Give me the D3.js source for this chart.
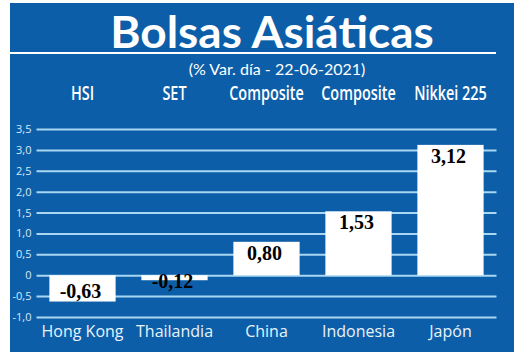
<!DOCTYPE html>
<html><head><meta charset="utf-8">
<script src="https://cdn.jsdelivr.net/npm/d3@7"></script>
<style>html,body{margin:0;padding:0;background:#fff;}</style>
</head><body>
<svg id="chart" width="520" height="357"></svg>
<script>
const categories = ["Hong Kong", "Thailandia", "China", "Indonesia", "Japón"];
const indices = ["HSI", "SET", "Composite", "Composite", "Nikkei 225"];
const values = [-0.63, -0.12, 0.80, 1.53, 3.12];
const valueLabels = ["-0,63", "-0,12", "0,80", "1,53", "3,12"];
const tickValues = [-1.0, -0.5, 0, 0.5, 1.0, 1.5, 2.0, 2.5, 3.0, 3.5];
const tickLabels = ["-1,0", "-0,5", "0", "0,5", "1,0", "1,5", "2,0", "2,5", "3,0", "3,5"];
const title = "Bolsas Asiáticas";
const subtitle = "(% Var. día - 22-06-2021)";

const svg = d3.select("#chart");
const blue = "#0d5ea8", grid = "#a9d7f2";

svg.append("rect").attr("x", 10).attr("y", 3).attr("width", 504).attr("height", 349).attr("fill", blue);

svg.append("text").attr("transform", "translate(272,48) scale(1.07,1)").attr("text-anchor", "middle")
  .attr("font-family", "Lato").attr("font-weight", 700).attr("font-size", 43)
  .attr("fill", "#fff").text(title);
svg.append("line").attr("x1", 10).attr("x2", 496).attr("y1", 53).attr("y2", 53)
  .attr("stroke", "#fff").attr("stroke-width", 2);
svg.append("text").attr("x", 277).attr("y", 75).attr("text-anchor", "middle")
  .attr("font-family", "Lato").attr("font-size", 16).attr("fill", "#fff").text(subtitle);

const x = d3.scaleBand().domain(categories).range([36.5, 496.5]).paddingInner(0.28).paddingOuter(0.14);
const y = d3.scaleLinear().domain([-1, 3.5]).range([317, 129]);

// gridlines via axis
const yAxis = d3.axisLeft(y).tickValues(tickValues)
  .tickSize(-(496.5 - 36.5)).tickPadding(5)
  .tickFormat((d, i) => tickLabels[i]);
const gy = svg.append("g").attr("transform", "translate(36.5,0)").call(yAxis);
gy.select(".domain").remove();
gy.selectAll(".tick line").attr("stroke", grid).attr("stroke-width", 2);
gy.selectAll(".tick text").attr("fill", "#d4eaf8").attr("font-family", "Open Sans")
  .attr("font-size", 11).attr("dy", "0.32em");

// bars
svg.selectAll("rect.bar").data(values).enter().append("rect").attr("class", "bar")
  .attr("x", (d, i) => x(categories[i]))
  .attr("width", x.bandwidth())
  .attr("y", d => Math.min(y(d), y(0)))
  .attr("height", d => Math.abs(y(d) - y(0)))
  .attr("fill", "#fff");

// value labels
svg.selectAll("text.val").data(values).enter().append("text").attr("class", "val")
  .attr("x", (d, i) => x(categories[i]) + x.bandwidth() / 2 - 2)
  .attr("y", d => d >= 0 ? y(d) + 18 : Math.max(y(d) - 4, y(0) + 13))
  .attr("text-anchor", "middle")
  .attr("font-family", "Liberation Serif").attr("font-weight", 700).attr("font-size", 20)
  .attr("fill", "#000")
  .text((d, i) => valueLabels[i]);

// category labels (bottom axis)
const xAxis = d3.axisBottom(x).tickSize(0).tickPadding(0);
const gx = svg.append("g").attr("transform", "translate(0,325)").call(xAxis);
gx.select(".domain").remove();
gx.selectAll(".tick text").attr("fill", "#e8f3fb").attr("font-family", "Open Sans")
  .attr("font-size", 16).attr("dy", "0.75em");

// index labels (top)
svg.selectAll("text.idx").data(indices).enter().append("text").attr("class", "idx")
  .attr("transform", (d, i) => `translate(${x(categories[i]) + x.bandwidth() / 2},100) scale(0.76,1)`)
  .attr("text-anchor", "middle")
  .attr("font-family", "Open Sans").attr("font-weight", 600).attr("font-size", 19)
  .attr("fill", "#fff").text(d => d);
</script>
</body></html>
